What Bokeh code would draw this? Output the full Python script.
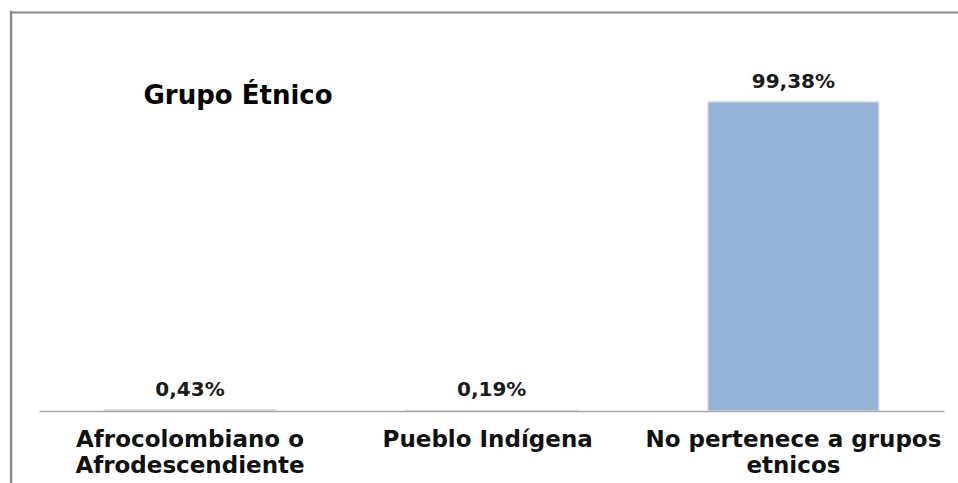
from bokeh.plotting import figure
from bokeh.models import ColumnDataSource, Range1d, Span, Label, FixedTicker
from bokeh.core.properties import value
from bokeh.embed import file_html
from bokeh.resources import INLINE

# ---- data ----
categories = ["Afrocolombiano o\nAfrodescendiente", "Pueblo  Indígena", "No pertenece a grupos\netnicos"]
values = [0.43, 0.19, 99.38]
value_labels = ["0,43%", "0,19%", "99,38%"]
title_text = "Grupo Étnico"

xs = list(range(len(categories)))
src = ColumnDataSource(dict(x=xs, top=values, label=value_labels))

FONT = "DejaVu Sans"

# ---- geometry (canvas pixels -> data ranges) ----
W, H = 958, 483
band = 301.7
c0 = 189.5          # x of first category centre
zero_px = 410.5     # y of value 0
ppu = 3.112         # pixels per percentage point
fl, ft = 9, 10      # frame left/top
fr, fb = W, H

x_range = Range1d((fl - c0) / band, (fr - c0) / band)
y_range = Range1d(-(fb - zero_px) / ppu, (zero_px - ft) / ppu)

p = figure(width=W, height=H, x_range=x_range, y_range=y_range,
           output_backend="svg", toolbar_location=None,
           y_axis_location=None, min_border_left=fl, min_border_top=ft,
           min_border_right=0, min_border_bottom=0)
p.outline_line_color = None
p.grid.visible = False
p.background_fill_color = "white"
p.border_fill_color = "white"

p.vbar(x="x", top="top", bottom=0, width=0.567, source=src,
       fill_color="#95b3d7", line_color="#dedede", line_width=1.5)

p.text(x="x", y="top", text="label", source=src, text_align="center",
       text_baseline="alphabetic", y_offset=-21,
       text_font=value(FONT), text_font_style="bold", text_font_size="20px",
       text_color="#1a1a1a")

ax = p.xaxis[0]
ax.fixed_location = 0
ax.bounds = (-0.5, len(categories) - 0.5)
ax.ticker = FixedTicker(ticks=xs)
ax.major_label_overrides = {i: c for i, c in zip(xs, categories)}
ax.axis_line_color = "#a6a6a6"
ax.axis_line_width = 1.5
ax.major_tick_line_color = None
ax.minor_tick_line_color = None
ax.major_label_standoff = 9
ax.major_label_text_font = FONT
ax.major_label_text_font_style = "bold"
ax.major_label_text_font_size = "23px"
ax.major_label_text_line_height = 1.0
ax.major_label_text_color = "#111111"

# chart border (top and left)
top_px, left_px = 12, 10.5
p.add_layout(Span(location=(zero_px - top_px) / ppu, dimension="width",
                  line_color="#8a8a8a", line_width=2))
p.add_layout(Span(location=(left_px - c0) / band, dimension="height",
                  line_color="#8a8a8a", line_width=2.5))

p.add_layout(Label(x=(143 - c0) / band, y=(zero_px - 94) / ppu, text=title_text,
                   text_font=FONT, text_font_style="bold", text_font_size="26px",
                   text_color="black", text_baseline="alphabetic"))

open("out.html", "w").write(file_html(p, INLINE))
